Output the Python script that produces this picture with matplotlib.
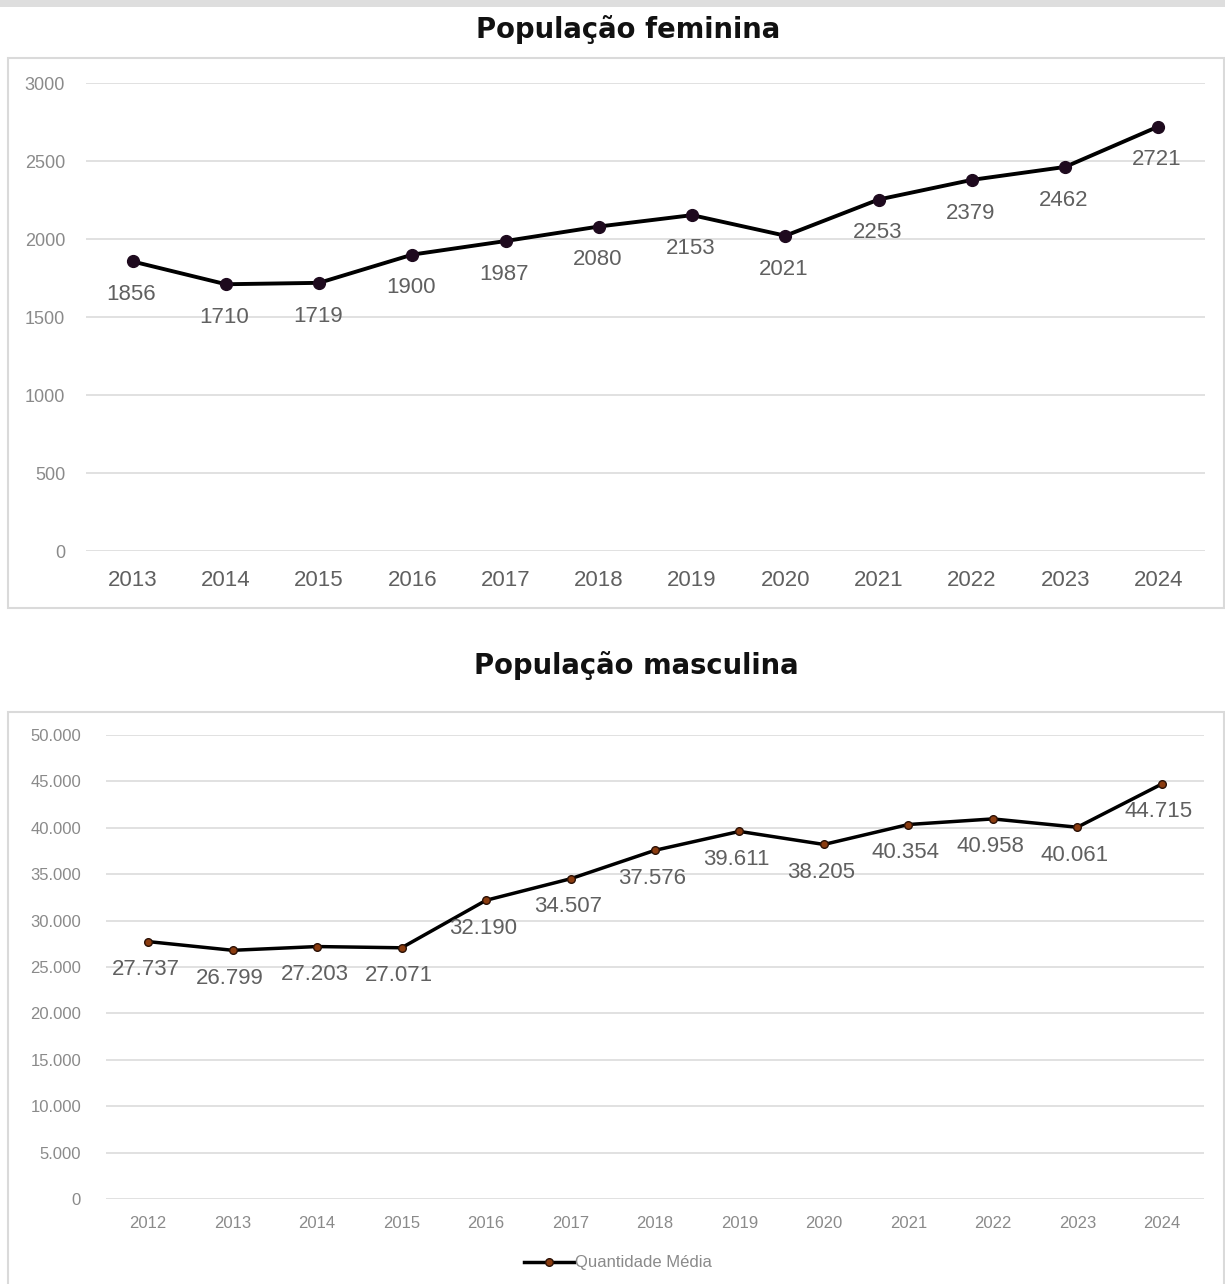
"""
População feminina / masculina - line charts
"""

import matplotlib.pyplot as plt
from matplotlib.patches import Rectangle
from matplotlib.lines import Line2D

#---------------------------------------------------------------------------------------------------
# Data
#---------------------------------------------------------------------------------------------------

years_fem = ['2013', '2014', '2015', '2016', '2017', '2018', '2019', '2020', '2021', '2022', '2023', '2024']
values_fem = [1856, 1710, 1719, 1900, 1987, 2080, 2153, 2021, 2253, 2379, 2462, 2721]
yticks_fem = [0, 500, 1000, 1500, 2000, 2500, 3000]

years_masc = ['2012', '2013', '2014', '2015', '2016', '2017', '2018', '2019', '2020', '2021', '2022',
              '2023', '2024']
values_masc = [27737, 26799, 27203, 27071, 32190, 34507, 37576, 39611, 38205, 40354, 40958, 40061, 44715]
yticks_masc = [0, 5000, 10000, 15000, 20000, 25000, 30000, 35000, 40000, 45000, 50000]

title_fem = 'População feminina'
title_masc = 'População masculina'
legend_label = 'Quantidade Média'

#---------------------------------------------------------------------------------------------------
# Helpers
#---------------------------------------------------------------------------------------------------

W, H = 1225, 1284
fig = plt.figure(figsize=(W / 100, H / 100), dpi=100)
plt.rcParams['font.family'] = ['Liberation Sans', 'DejaVu Sans']

def px_box(x0, y0, x1, y1):
    # pixel (top-left origin) -> figure fraction [left, bottom, width, height]
    return [x0 / W, 1 - y1 / H, (x1 - x0) / W, (y1 - y0) / H]

def fmt_dot(v):
    return f'{v:,}'.replace(',', '.')

grid_c = '#dcdcdc'
txt_c = '#606060'
tick_c = '#8a8a8a'

# Top gray strip and frame boxes
fig.add_artist(Rectangle((0, 1 - 7 / H), 1, 7 / H, transform=fig.transFigure, color='#dedede', lw=0))
for (x0, y0, x1, y1) in [(8, 58, 1224, 608), (8, 712, 1224, 1290)]:
    b = px_box(x0, y0, x1, y1)
    fig.add_artist(Rectangle((b[0], b[1]), b[2], b[3], transform=fig.transFigure, fill=False,
                             ec='#dadada', lw=1.5))

# Titles
fig.text(628 / W, 1 - 30 / H, title_fem, ha='center', va='center', size=19.8, weight='bold',
         family='DejaVu Sans', color='#111111')
fig.text(636 / W, 1 - 666 / H, title_masc, ha='center', va='center', size=19.8, weight='bold',
         family='DejaVu Sans', color='#111111')

#---------------------------------------------------------------------------------------------------
# Chart 1
#---------------------------------------------------------------------------------------------------

ax1 = fig.add_axes(px_box(86, 83, 1205, 551))
x1 = list(range(len(years_fem)))
ax1.plot(x1, values_fem, color='black', lw=2.8, marker='o', ms=8.5, mfc='#1e0a1e', mec='#1e0a1e',
         zorder=3)
for xi, v in zip(x1, values_fem):
    ax1.annotate(str(v), (xi, v), xytext=(-1, -24), textcoords='offset points', ha='center',
                 va='center', size=16, color=txt_c)
ax1.set_xlim(-0.5, len(years_fem) - 0.5)
ax1.set_ylim(0, 3000)
ax1.set_yticks(yticks_fem)
ax1.set_xticks(x1, years_fem)
ax1.grid(axis='y', color=grid_c, lw=1.2)
ax1.set_axisbelow(True)
for s in ax1.spines.values():
    s.set_visible(False)
ax1.tick_params(axis='y', length=0, pad=15, labelsize=13, labelcolor=tick_c)
ax1.tick_params(axis='x', length=0, pad=14, labelsize=16, labelcolor=txt_c)

#---------------------------------------------------------------------------------------------------
# Chart 2
#---------------------------------------------------------------------------------------------------

ax2 = fig.add_axes(px_box(106, 735, 1204, 1199))
x2 = list(range(len(years_masc)))
ax2.plot(x2, values_masc, color='black', lw=2.5, marker='o', ms=5.5, mfc='#8a3c10', mec='#2a1005',
         mew=1, zorder=3)
for xi, v in zip(x2, values_masc):
    ax2.annotate(fmt_dot(v), (xi, v), xytext=(-2, -20), textcoords='offset points', ha='center',
                 va='center', size=16, color=txt_c)
ax2.set_xlim(-0.5, len(years_masc) - 0.5)
ax2.set_ylim(0, 50000)
ax2.set_yticks(yticks_masc, [fmt_dot(v) for v in yticks_masc])
ax2.set_xticks(x2, years_masc)
ax2.grid(axis='y', color=grid_c, lw=1.2)
ax2.set_axisbelow(True)
for s in ax2.spines.values():
    s.set_visible(False)
ax2.tick_params(axis='y', length=0, pad=18, labelsize=12, labelcolor=tick_c)
ax2.tick_params(axis='x', length=0, pad=12, labelsize=12, labelcolor=tick_c)

handle = Line2D([], [], color='black', lw=2.5, marker='o', ms=5.5, mfc='#8a3c10', mec='#2a1005')
fig.legend([handle], [legend_label], loc='center', bbox_to_anchor=(618 / W, 1 - 1263 / H),
           frameon=False, fontsize=12, labelcolor=tick_c, handlelength=3.0, handletextpad=0.1)

plt.savefig('out.png', dpi=100)
plt.close()
